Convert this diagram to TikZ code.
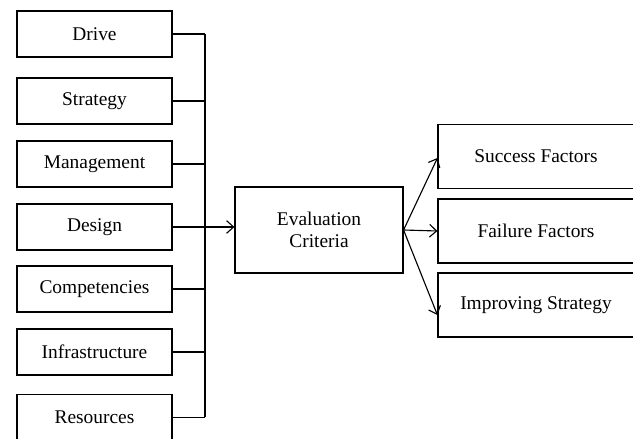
\documentclass[tikz,border=0pt]{standalone}
\usepackage{fontspec}
\setmainfont{Liberation Serif}
\usetikzlibrary{calc,arrows.meta}
\tikzset{
	leftbox/.style={draw, line width=0.8pt, minimum width=155*0.025cm, minimum height=46*0.025cm, inner sep=0pt},
	rightbox/.style={draw, line width=0.8pt, minimum width=196*0.025cm, minimum height=64*0.025cm, inner sep=0pt},
	evalbox/.style={draw, line width=0.8pt, minimum width=168*0.025cm, minimum height=86*0.025cm, inner sep=0pt, align=center},
	link/.style={line width=0.8pt},
	tip/.style={-{Straight Barb[length=5pt, width=9pt]}},
}

\begin{document}
\begin{tikzpicture}[x=0.025cm, y=-0.025cm, font=\fontsize{13.8}{15.6}\selectfont]
		%%%%% START %%%%%
		\useasboundingbox (0, 0) rectangle (633, 439);
		
		\node[leftbox] (drive) at (94.5, 34) {Drive};
		\node[leftbox] (strategy) at (94.5, 101) {Strategy};
		\node[leftbox] (management) at (94.5, 164) {Management};
		\node[leftbox] (design) at (94.5, 227) {Design};
		\node[leftbox] (competencies) at (94.5, 289) {Competencies};
		\node[leftbox] (infrastructure) at (94.5, 352) {Infrastructure};
		\node[leftbox] (resources) at (94.5, 417.5) {Resources};
		
		\coordinate (bus) at (205, 0);
		
		\node[evalbox] (eval) at (319, 230) {Evaluation\\Criteria};
		
		\node[rightbox] (success) at (536, 156.5) {Success Factors};
		\node[rightbox] (failure) at (536, 231) {Failure Factors};
		\node[rightbox] (improving) at (536, 305) {Improving Strategy};
		
		% bus on the left
		\foreach \b in {drive, strategy, management, competencies, infrastructure, resources}
			\draw[link] (\b.east) -- (\b.east -| bus);
		\draw[link] (drive.east -| bus) -- (resources.east -| bus);
		\draw[link, tip] (design.east) -- (design.east -| eval.west);
		
		% outputs
		\draw[link, tip] (eval.east) -- ($(success.west)+(0, 1.5)$);
		\draw[link, tip] (eval.east) -- (failure.west);
		\draw[link, tip] (eval.east) -- ($(improving.west)+(0, 10)$);
		
		%%%%% END %%%%%
	\end{tikzpicture}
\end{document}
